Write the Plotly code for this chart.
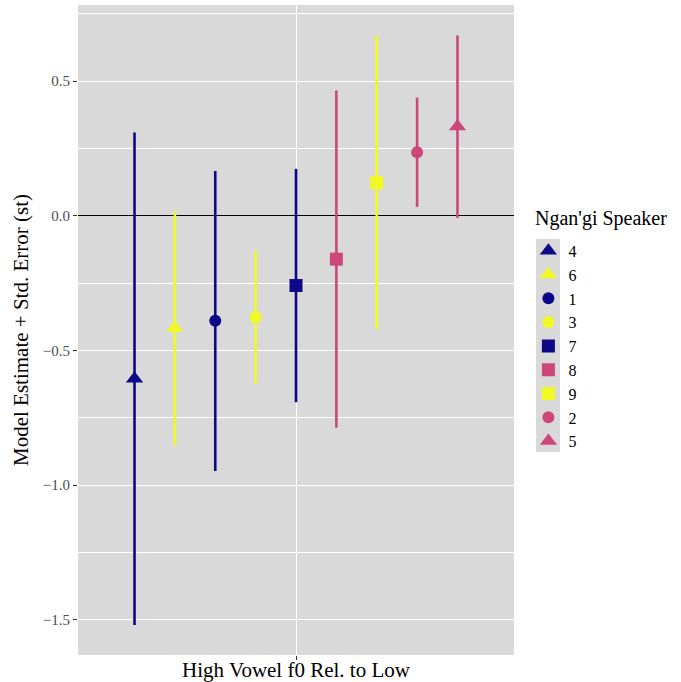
import plotly.graph_objects as go

# ---- data ----
speakers = ["4", "6", "1", "3", "7", "8", "9", "2", "5"]
estimates = [-0.605, -0.417, -0.390, -0.377, -0.259, -0.161, 0.123, 0.236, 0.331]
lower = [-1.519, -0.852, -0.947, -0.624, -0.692, -0.787, -0.420, 0.033, -0.008]
upper = [0.309, 0.018, 0.166, -0.130, 0.174, 0.465, 0.668, 0.438, 0.669]
groups = ["navy", "yellow", "navy", "yellow", "navy", "pink", "yellow", "pink", "pink"]
symbols = ["triangle-up", "triangle-up", "circle", "circle", "square", "square", "square", "circle", "triangle-up"]
category = "High Vowel f0 Rel. to Low"
legend_title = "Ngan'gi Speaker"
y_ticks = [0.5, 0.0, -0.5, -1.0, -1.5]
y_ticktext = ["0.5", "0.0", "\u22120.5", "\u22121.0", "\u22121.5"]

palette = {"navy": "#0D0887", "pink": "#CC4678", "yellow": "#F0F921"}
sym_size = {"triangle-up": 15, "circle": 12, "square": 13}

FONT = "Liberation Serif"
n = len(speakers)
dodge_width = 1.0

fig = go.Figure()
for i, sp in enumerate(speakers):
    xpos = 1 + (i - (n - 1) / 2) * dodge_width / n
    col = palette[groups[i]]
    fig.add_trace(go.Scatter(
        x=[xpos], y=[estimates[i]],
        mode="markers",
        name=sp,
        marker=dict(symbol=symbols[i], size=sym_size[symbols[i]], color=col,
                    line=dict(width=0)),
        error_y=dict(type="data", symmetric=False,
                     array=[upper[i] - estimates[i]],
                     arrayminus=[estimates[i] - lower[i]],
                     width=0, thickness=2.6, color=col),
        showlegend=True,
    ))

# grey background behind legend keys
fig.add_shape(type="rect", xref="paper", yref="paper",
              x0=1.0505, x1=1.1055, y0=0.3123, y1=0.64,
              fillcolor="#D9D9D9", line=dict(width=0), layer="below")

fig.add_annotation(text=legend_title, xref="paper", yref="paper",
                   x=1.0436, y=0.672, xanchor="left", yanchor="middle",
                   showarrow=False, font=dict(size=20, family=FONT, color="black"))

fig.update_layout(
    width=681, height=682,
    margin=dict(l=78, r=167, t=5, b=27, autoexpand=False),
    paper_bgcolor="white",
    plot_bgcolor="#D9D9D9",
    font=dict(family=FONT, color="black"),
    legend=dict(
        font=dict(size=16, family=FONT),
        x=1.033, xanchor="left", y=0.648, yanchor="top",
        bgcolor="rgba(0,0,0,0)", tracegroupgap=0,
    ),
    xaxis=dict(
        range=[0.4, 1.6], tickvals=[1], ticktext=[""],
        showgrid=True, gridcolor="white", gridwidth=1.4,
        zeroline=False, ticks="outside", ticklen=4, tickcolor="#333333",
        title=dict(text=category, font=dict(size=21, family=FONT), standoff=0),
        showline=False, automargin=False,
    ),
    yaxis=dict(
        range=[-1.63, 0.782], tickvals=y_ticks, ticktext=y_ticktext,
        tickfont=dict(size=15, color="#4D4D4D", family=FONT),
        showgrid=True, gridcolor="white", gridwidth=1.4,
        minor=dict(tick0=0.25, dtick=0.5, showgrid=True, gridcolor="white", gridwidth=0.9),
        zeroline=True, zerolinecolor="black", zerolinewidth=1.2,
        ticks="outside", ticklen=4, tickcolor="#333333",
        title=dict(text="Model Estimate + Std. Error (st)", font=dict(size=21, family=FONT), standoff=8),
        showline=False, automargin=False,
    ),
)

fig.write_html("out.html", config={"displayModeBar": False},
               post_script="document.body.style.margin='0';")
